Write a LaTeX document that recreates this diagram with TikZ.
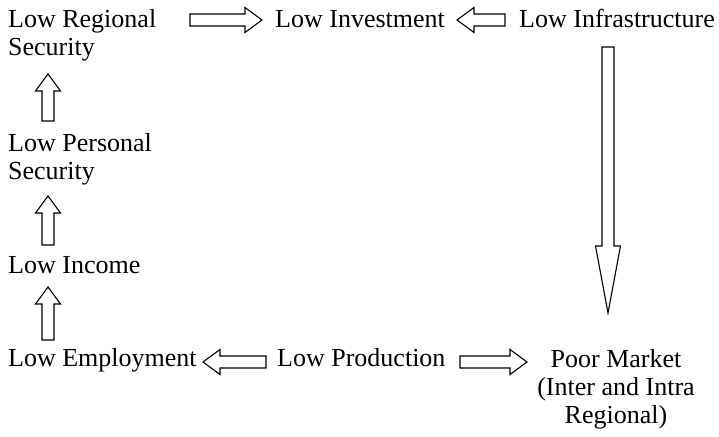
\documentclass[tikz,border=0pt]{standalone}
\usepackage{fontspec}
\setmainfont{Liberation Serif}
\usetikzlibrary{calc}

\begin{document}
\begin{tikzpicture}[
  x=1pt,y=1pt,
  lbl/.style={inner sep=0pt,align=left,font=\fontsize{26}{28}\selectfont},
  fat/.style={draw=black,line width=1.1pt,line join=miter,
    to path={($(\tikztostart)!6pt!90:(\tikztotarget)$)
      -- ($(\tikztotarget)!#1!(\tikztostart)!6pt!-90:(\tikztostart)$)
      -- ($(\tikztotarget)!#1!(\tikztostart)!12.5pt!-90:(\tikztostart)$)
      -- (\tikztotarget)
      -- ($(\tikztotarget)!#1!(\tikztostart)!12.5pt!90:(\tikztostart)$)
      -- ($(\tikztotarget)!#1!(\tikztostart)!6pt!90:(\tikztostart)$)
      -- ($(\tikztostart)!6pt!-90:(\tikztotarget)$) -- cycle}},
  fat/.default=17pt
]
\useasboundingbox (0,0) rectangle (719,436);

% multi-line nodes sit on the baseline of their last line
\node[lbl,anchor=base west] (regsec) at (8,380) {Low Regional\\Security};
\node[lbl,anchor=base west] (invest) at (275,408) {Low Investment};
\node[lbl,anchor=base west] (infra) at (519,408) {Low Infrastructure};
\node[lbl,anchor=base west] (perssec) at (8,256) {Low Personal\\Security};
\node[lbl,anchor=base west] (income) at (8,162) {Low Income};
\node[lbl,anchor=base west] (employ) at (8,70) {Low Employment};
\node[lbl,anchor=base west] (prod) at (277,70) {Low Production};
\node[lbl,anchor=base,align=center] (market) at (616,13) {Poor Market\\(Inter and Intra\\Regional)};

% top row
\coordinate (regsec-out) at (190,416);
\coordinate (invest-in) at ([xshift=-13pt]invest.west |- regsec-out);
\draw[fat] (regsec-out) to (invest-in);
\coordinate (infra-out) at (505,416);
\coordinate (invest-in2) at (457,416);
\draw[fat] (infra-out) to (invest-in2);

% right side
\coordinate (infra-down) at (608,389);
\coordinate (market-in) at (608,123);
\draw[fat=67pt] (infra-down) to (market-in);

% left column
\coordinate (p1) at (48,315);
\coordinate (p2) at (48,362);
\draw[fat] (p1) to (p2);
\coordinate (i1) at (48,191);
\coordinate (i2) at (48,240);
\draw[fat] (i1) to (i2);
\coordinate (e1) at (48,96);
\coordinate (e2) at (48,149);
\draw[fat] (e1) to (e2);

% bottom row
\coordinate (prod-l) at (266,74);
\coordinate (employ-in) at (203,74);
\draw[fat] (prod-l) to (employ-in);
\coordinate (prod-r) at (460,74);
\coordinate (market-l) at (527,74);
\draw[fat] (prod-r) to (market-l);
\end{tikzpicture}
\end{document}
